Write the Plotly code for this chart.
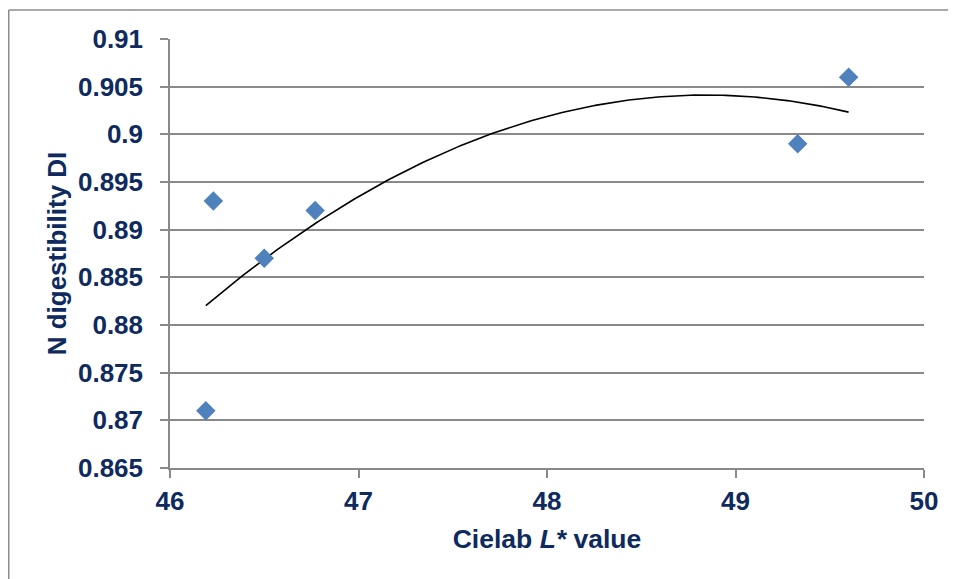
import numpy as np
import plotly.graph_objects as go

# Data
cielab_L = [46.19, 46.23, 46.50, 46.77, 49.33, 49.60]
n_digestibility = [0.871, 0.893, 0.887, 0.892, 0.899, 0.906]

x_ticks = [46, 47, 48, 49, 50]
y_ticks = [0.865, 0.87, 0.875, 0.88, 0.885, 0.89, 0.895, 0.9, 0.905, 0.91]
y_tick_labels = ["0.865", "0.87", "0.875", "0.88", "0.885", "0.89", "0.895", "0.9", "0.905", "0.91"]

# Polynomial (order 2) trendline fitted to the data, as in the original
coef = np.polyfit(cielab_L, n_digestibility, 2)
trend_x = np.linspace(min(cielab_L), max(cielab_L), 200)
trend_y = np.polyval(coef, trend_x)

TEXT = "#0E2A5E"
GRID = "#898989"
FONT = "Liberation Sans, Arial, sans-serif"

fig = go.Figure()
fig.add_trace(go.Scatter(
    x=trend_x, y=trend_y, mode="lines",
    line=dict(color="black", width=1.6), hoverinfo="skip", showlegend=False))
fig.add_trace(go.Scatter(
    x=cielab_L, y=n_digestibility, mode="markers",
    marker=dict(symbol="diamond", size=15, color="#4F81BD", line=dict(width=0)),
    showlegend=False))

# page has an 8px body margin, so the figure is sized/offset to compensate
W, H = 948, 571
L, R, T, B = 162, 32, 31, 111
pw, ph = W - L - R, H - T - B

def px_x(p):
    return (p - L) / pw

def px_y(p):
    return 1 + (T - p) / ph

# outer chart-area border (only top & left visible in the reference crop)
fig.add_shape(type="line", xref="paper", yref="paper",
              x0=px_x(0.75), x1=px_x(0.75), y0=px_y(2), y1=px_y(600),
              line=dict(color="#8C8C8C", width=1.5))
fig.add_shape(type="line", xref="paper", yref="paper",
              x0=px_x(0.75), x1=px_x(970), y0=px_y(2), y1=px_y(2),
              line=dict(color="#8C8C8C", width=1.5))

fig.update_layout(
    width=W, height=H,
    margin=dict(l=L, r=R, t=T, b=B),
    paper_bgcolor="white", plot_bgcolor="white",
    font=dict(family=FONT, color=TEXT, size=26, weight="bold"),
    xaxis=dict(
        range=[46, 50], tickvals=x_ticks, ticktext=[str(v) for v in x_ticks],
        showgrid=False, zeroline=False,
        showline=True, linecolor=GRID, linewidth=1.5,
        ticks="outside", ticklen=8, tickwidth=1.5, tickcolor=GRID,
        tickfont=dict(family=FONT, color=TEXT, size=26, weight="bold"),
        ticklabelstandoff=1,
        title=dict(text="Cielab <i>L*</i> value", standoff=14,
                   font=dict(family=FONT, color=TEXT, size=26.5, weight="bold")),
    ),
    yaxis=dict(
        range=[0.865, 0.91], tickvals=y_ticks, ticktext=y_tick_labels,
        showgrid=True, gridcolor=GRID, gridwidth=1.5, zeroline=False,
        showline=True, linecolor=GRID, linewidth=1.5,
        ticks="outside", ticklen=8, tickwidth=1.5, tickcolor=GRID,
        tickfont=dict(family=FONT, color=TEXT, size=26, weight="bold"),
        ticklabelstandoff=12,
        title=dict(text="N digestibility DI", standoff=4,
                   font=dict(family=FONT, color=TEXT, size=26, weight="bold")),
    ),
)

fig.write_html("out.html")
